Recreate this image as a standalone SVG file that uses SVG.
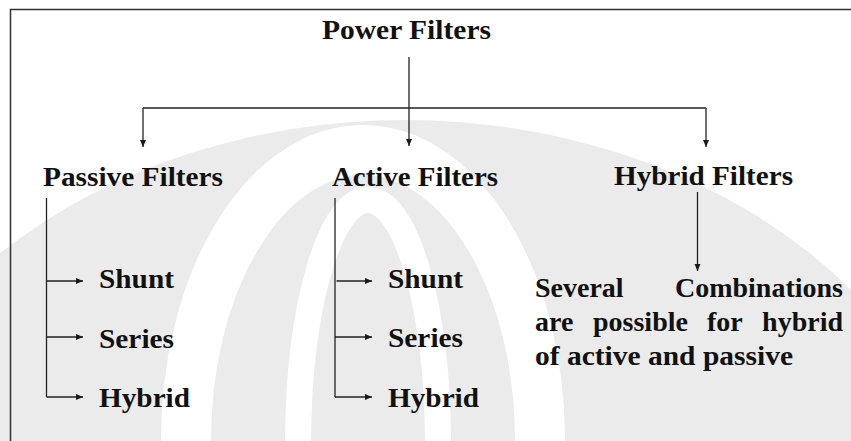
<svg xmlns="http://www.w3.org/2000/svg" width="851" height="441" viewBox="0 0 851 441">
<defs>
<marker id="arr" markerWidth="8" markerHeight="7" refX="7" refY="3.5" orient="auto" markerUnits="userSpaceOnUse">
<path d="M0,0.5 L7,3.5 L0,6.5 z" fill="#1a1a1a"/>
</marker>
</defs>
<style>
.t{font-family:"Liberation Serif","Times New Roman",serif;font-weight:bold;font-size:28px;fill:#111}
.c{fill:none;stroke:#222;stroke-width:1.3}
.wm{fill:#ebebeb}
.wr{fill:none;stroke:#ffffff}
</style>
<rect x="0" y="0" width="851" height="441" fill="#ffffff"/>
<g id="watermark">
<ellipse class="wm" cx="405" cy="570" rx="570" ry="450"/>
<ellipse class="wr" cx="363" cy="440" rx="177" ry="290" stroke-width="50"/>
<ellipse class="wr" cx="368" cy="445" rx="70" ry="245" stroke-width="26"/>
</g>
<path d="M10.5,441 V9.5 H851" fill="none" stroke="#333" stroke-width="1.5"/>
<g id="connectors">
<line class="c" x1="409" y1="57" x2="409" y2="146" marker-end="url(#arr)"/>
<line class="c" x1="143" y1="108" x2="706" y2="108"/>
<line class="c" x1="143" y1="108" x2="143" y2="147" marker-end="url(#arr)"/>
<line class="c" x1="706" y1="108" x2="706" y2="147" marker-end="url(#arr)"/>
<line class="c" x1="46.5" y1="198" x2="46.5" y2="397"/>
<line class="c" x1="46.5" y1="281" x2="83" y2="281" marker-end="url(#arr)"/>
<line class="c" x1="46.5" y1="337" x2="83" y2="337" marker-end="url(#arr)"/>
<line class="c" x1="46.5" y1="397" x2="83" y2="397" marker-end="url(#arr)"/>
<line class="c" x1="335" y1="198" x2="335" y2="397"/>
<line class="c" x1="336.5" y1="281" x2="372" y2="281" marker-end="url(#arr)"/>
<line class="c" x1="335" y1="337" x2="372" y2="337" marker-end="url(#arr)"/>
<line class="c" x1="335" y1="397" x2="372" y2="397" marker-end="url(#arr)"/>
<line class="c" x1="697.5" y1="192" x2="697.5" y2="271" marker-end="url(#arr)"/>
</g>
<g id="power-filters"><text class="t" x="322" y="39" textLength="169" lengthAdjust="spacingAndGlyphs">Power Filters</text></g>
<g id="passive-filters"><text class="t" x="43" y="186" textLength="180" lengthAdjust="spacingAndGlyphs">Passive Filters</text></g>
<g id="active-filters"><text class="t" x="332" y="186" textLength="166" lengthAdjust="spacingAndGlyphs">Active Filters</text></g>
<g id="hybrid-filters"><text class="t" x="614" y="185" textLength="179" lengthAdjust="spacingAndGlyphs">Hybrid Filters</text></g>
<g id="passive-shunt"><text class="t" x="99" y="288" textLength="75" lengthAdjust="spacingAndGlyphs">Shunt</text></g>
<g id="passive-series"><text class="t" x="99" y="348" textLength="75" lengthAdjust="spacingAndGlyphs">Series</text></g>
<g id="passive-hybrid"><text class="t" x="99" y="407" textLength="91" lengthAdjust="spacingAndGlyphs">Hybrid</text></g>
<g id="active-shunt"><text class="t" x="388" y="288" textLength="75" lengthAdjust="spacingAndGlyphs">Shunt</text></g>
<g id="active-series"><text class="t" x="388" y="347" textLength="75" lengthAdjust="spacingAndGlyphs">Series</text></g>
<g id="active-hybrid"><text class="t" x="388" y="407" textLength="91" lengthAdjust="spacingAndGlyphs">Hybrid</text></g>
<g id="hybrid-note">
<text class="t" x="535" y="297">Several</text>
<text class="t" x="843" y="297" text-anchor="end">Combinations</text>
<text class="t" x="535" y="331">are</text>
<text class="t" x="593" y="331">possible</text>
<text class="t" x="707" y="331">for</text>
<text class="t" x="843" y="331" text-anchor="end">hybrid</text>
<text class="t" x="535" y="365" textLength="258" lengthAdjust="spacingAndGlyphs">of active and passive</text>
</g>
</svg>
